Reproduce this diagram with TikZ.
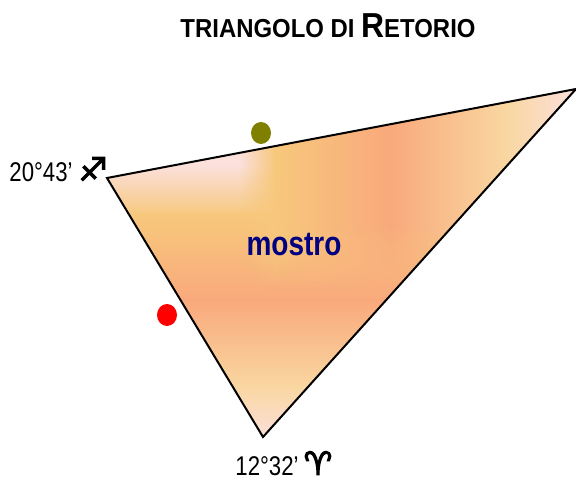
\documentclass[tikz,border=0pt]{standalone}
\usepackage{fontspec}
\usetikzlibrary{fadings,shapes.geometric}
\setmainfont{Liberation Sans}
\newfontfamily\narrowfont[FakeStretch=0.82]{Liberation Sans}
\newfontfamily\titlefont[FakeStretch=0.92]{Liberation Sans}
\newfontfamily\symfont[FakeBold=3.5]{DejaVu Sans}
\definecolor{cpink}{HTML}{FBE0DC}
\definecolor{cgold}{HTML}{F7C87C}
\definecolor{clight}{HTML}{F9D6A0}
\definecolor{csalm}{HTML}{F9A97C}
\definecolor{cnavy}{HTML}{000080}
\definecolor{colive}{HTML}{808000}
\pgfdeclarehorizontalshading{rightlayer}{100bp}{
  color(0bp)=(cgold); color(25bp)=(cgold); color(44.1bp)=(csalm);
  color(63.2bp)=(clight); color(75bp)=(cpink); color(100bp)=(cpink)}
\tikzfading[name=fadedown,top color=transparent!0,bottom color=transparent!100]
\tikzfading[name=fadeleft,right color=transparent!0,left color=transparent!100]
\tikzfading[name=faderound,inner color=transparent!0,outer color=transparent!100]
\tikzset{
  lab/.style={font=\narrowfont\fontsize{20.3}{22}\selectfont,inner sep=0pt,text=black},
  sym/.style={font=\symfont\fontsize{24}{26}\selectfont,inner sep=0pt,text=black},
  dot/.style={ellipse,minimum width=15pt,minimum height=16.5pt,inner sep=0pt},
}
\begin{document}
\begin{tikzpicture}[x=0.75pt,y=-0.75pt]
\useasboundingbox (0,0) rectangle (576,484);
\coordinate (A) at (107,178);
\coordinate (B) at (576,89);
\coordinate (C) at (263,437);
\begin{scope}
\clip (A) -- (B) -- (C) -- cycle;
% base layer: gradient from top to bottom
\fill[cpink] (100,80) rectangle (576,166);
\shade[top color=cpink,bottom color=cgold] (100,165) rectangle (576,216);
\shade[top color=cgold,bottom color=csalm] (100,215) rectangle (576,301);
\shade[top color=csalm,bottom color=clight] (100,300) rectangle (576,386);
\shade[top color=clight,bottom color=cpink] (100,385) rectangle (576,440);
% upper-right layer: gradient from left to right, with soft edges
\shade[shading=rightlayer] (275,60) rectangle (576,225.5);
\shade[shading=rightlayer,path fading=fadedown] (275,225) rectangle (576,290);
\fill[cgold,path fading=fadeleft] (240,60) rectangle (275.5,225.5);
\begin{scope}
\clip (240,225) rectangle (275.5,290);
\fill[cgold,path fading=faderound] (275,225) circle [x radius=35,y radius=65];
\end{scope}
\end{scope}
\draw[line width=1.5pt,line join=miter] (A) -- (B) -- (C) -- cycle;
\node[font=\titlefont\bfseries\fontsize{19.5}{22}\selectfont,inner sep=0pt] (title) at (328,26) {TRIANGOLO DI {\fontsize{26}{26}\selectfont R}ETORIO};
\node[font=\narrowfont\bfseries\fontsize{25.6}{28}\selectfont,text=cnavy,inner sep=0pt] (m) at (294,245) {mostro};
\node[lab] (l1) at (41,172) {20°43’};
\node[sym] (s1) at (93,169) {♐};
\node[lab] (l2) at (267,466) {12°32’};
\node[sym] (s2) at (318,463) {♈};
\node[dot,fill=colive] (d1) at (261,133) {};
\node[dot,fill=red] (d2) at (167,315) {};
\end{tikzpicture}
\end{document}
